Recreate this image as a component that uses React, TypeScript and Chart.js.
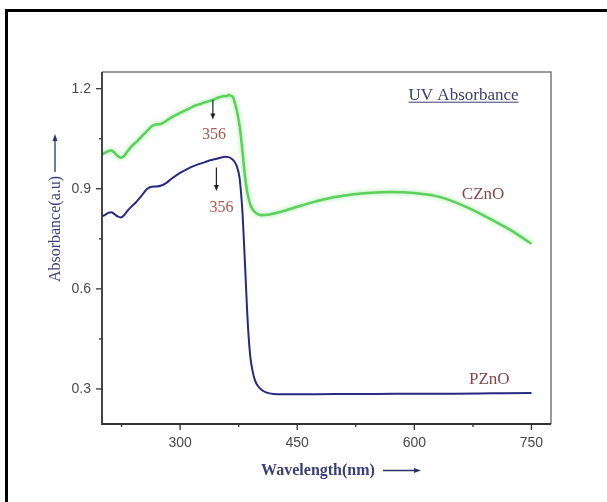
import React, { useEffect, useRef } from "react";
import { Chart, registerables } from "chart.js";

Chart.register(...registerables);

// ---- data ----
const czWavelength = [200, 204, 208, 212, 216, 220, 224, 228, 232, 236, 240, 246, 252, 258, 264, 270, 276, 282, 289, 297, 306, 312, 319, 327, 336, 343, 349, 353, 356, 359, 362, 365, 368, 371, 374, 377, 380, 383, 386, 390, 394, 398, 404, 412, 420, 435, 450, 470, 495, 520, 545, 570, 600, 633, 667, 700, 727, 750];
const czAbsorbance = [1.003, 1.008, 1.013, 1.015, 1.008, 0.998, 0.993, 0.998, 1.010, 1.022, 1.032, 1.045, 1.060, 1.074, 1.088, 1.093, 1.095, 1.103, 1.114, 1.124, 1.134, 1.141, 1.149, 1.155, 1.162, 1.167, 1.174, 1.176, 1.178, 1.177, 1.181, 1.179, 1.174, 1.150, 1.120, 1.075, 1.010, 0.940, 0.890, 0.852, 0.835, 0.826, 0.821, 0.822, 0.826, 0.835, 0.846, 0.860, 0.874, 0.883, 0.888, 0.890, 0.887, 0.875, 0.845, 0.806, 0.771, 0.735];

const pzWavelength = [200, 204, 208, 212, 216, 220, 224, 228, 232, 237, 243, 250, 258, 264, 270, 276, 282, 289, 297, 306, 314, 323, 332, 340, 347, 353, 358, 362, 366, 370, 373, 376, 378, 380, 382, 384, 386, 388, 390, 393, 396, 400, 405, 411, 420, 430, 450, 500, 550, 600, 650, 700, 750];
const pzAbsorbance = [0.818, 0.822, 0.828, 0.830, 0.824, 0.817, 0.814, 0.820, 0.832, 0.845, 0.858, 0.877, 0.900, 0.906, 0.907, 0.910, 0.917, 0.930, 0.943, 0.955, 0.965, 0.973, 0.980, 0.986, 0.990, 0.994, 0.996, 0.995, 0.990, 0.980, 0.965, 0.935, 0.890, 0.826, 0.730, 0.630, 0.527, 0.450, 0.395, 0.352, 0.325, 0.308, 0.296, 0.289, 0.285, 0.284, 0.284, 0.285, 0.285, 0.286, 0.286, 0.287, 0.288];

const seriesNames = ["CZnO", "PZnO"];
const peakLabel = "356";
const chartLabel = "UV Absorbance";
const xTitle = "Wavelength(nm)";
const yTitle = "Absorbance(a.u)";

const xMajorTicks = [300, 450, 600, 750];
const xMinorTicks = [225, 375, 525, 675];
const yMajorTicks = [0.3, 0.6, 0.9, 1.2];
const yMinorTicks = [0.45, 0.75, 1.05];

const SERIF = '"Liberation Serif", "Times New Roman", serif';
const SANS = '"Liberation Sans", Arial, sans-serif';

function drawArrow(ctx: CanvasRenderingContext2D, x1: number, y1: number, x2: number, y2: number, color: string, width: number, headLen: number, headW: number) {
  const ang = Math.atan2(y2 - y1, x2 - x1);
  ctx.save();
  ctx.strokeStyle = color;
  ctx.fillStyle = color;
  ctx.lineWidth = width;
  ctx.beginPath();
  ctx.moveTo(x1, y1);
  ctx.lineTo(x2 - Math.cos(ang) * headLen * 0.6, y2 - Math.sin(ang) * headLen * 0.6);
  ctx.stroke();
  ctx.beginPath();
  ctx.moveTo(x2, y2);
  ctx.lineTo(x2 - Math.cos(ang) * headLen + Math.sin(ang) * headW, y2 - Math.sin(ang) * headLen - Math.cos(ang) * headW);
  ctx.lineTo(x2 - Math.cos(ang) * headLen - Math.sin(ang) * headW, y2 - Math.sin(ang) * headLen + Math.cos(ang) * headW);
  ctx.closePath();
  ctx.fill();
  ctx.restore();
}

const decorPlugin = {
  id: "decor",
  beforeDatasetDraw(chart: any, args: any) {
    if (args.index === 0) {
      const c = chart.ctx;
      c.save();
      c.shadowColor = "rgba(120,225,120,0.8)";
      c.shadowBlur = 4;
    }
  },
  afterDatasetDraw(chart: any, args: any) {
    if (args.index === 0) chart.ctx.restore();
  },
  afterDraw(chart: any) {
    const ctx: CanvasRenderingContext2D = chart.ctx;
    const a = chart.chartArea;
    const xs = chart.scales.x;
    const ys = chart.scales.y;
    ctx.save();
    // plot frame
    ctx.lineWidth = 1.5;
    ctx.strokeStyle = "#7a7a7a";
    ctx.beginPath();
    ctx.moveTo(a.left, a.top);
    ctx.lineTo(a.right, a.top);
    ctx.lineTo(a.right, a.bottom);
    ctx.stroke();
    ctx.strokeStyle = "#333";
    ctx.lineWidth = 1.8;
    ctx.beginPath();
    ctx.moveTo(a.left, a.top);
    ctx.lineTo(a.left, a.bottom);
    ctx.lineTo(a.right, a.bottom);
    ctx.stroke();

    // tick marks
    ctx.lineWidth = 1.3;
    ctx.strokeStyle = "#333";
    const tick = (x1: number, y1: number, x2: number, y2: number) => {
      ctx.beginPath();
      ctx.moveTo(x1, y1);
      ctx.lineTo(x2, y2);
      ctx.stroke();
    };
    xMajorTicks.forEach((v) => { const px = xs.getPixelForValue(v); tick(px, a.bottom, px, a.bottom + 6); });
    xMinorTicks.forEach((v) => { const px = xs.getPixelForValue(v); tick(px, a.bottom, px, a.bottom + 3); });
    yMajorTicks.forEach((v) => { const py = ys.getPixelForValue(v); tick(a.left, py, a.left - 6, py); });
    yMinorTicks.forEach((v) => { const py = ys.getPixelForValue(v); tick(a.left, py, a.left - 3, py); });

    // annotations
    ctx.textAlign = "center";
    ctx.textBaseline = "middle";
    ctx.font = `16px ${SERIF}`;
    ctx.fillStyle = "#a8584e";
    ctx.fillText(peakLabel, xs.getPixelForValue(343.5), ys.getPixelForValue(1.062));
    ctx.fillText(peakLabel, xs.getPixelForValue(353), ys.getPixelForValue(0.843));
    drawArrow(ctx, xs.getPixelForValue(342), ys.getPixelForValue(1.167), xs.getPixelForValue(342), ys.getPixelForValue(1.108), "#222", 1.2, 6, 2.5);
    drawArrow(ctx, xs.getPixelForValue(346.5), ys.getPixelForValue(0.964), xs.getPixelForValue(346.5), ys.getPixelForValue(0.893), "#222", 1.2, 6, 2.5);

    ctx.font = `17px ${SERIF}`;
    ctx.fillStyle = "#864548";
    ctx.fillText(seriesNames[0], xs.getPixelForValue(688), ys.getPixelForValue(0.882));
    ctx.fillText(seriesNames[1], xs.getPixelForValue(696), ys.getPixelForValue(0.328));

    // UV Absorbance label with underline
    ctx.font = `17px ${SERIF}`;
    ctx.fillStyle = "#3a3d70";
    const ux = xs.getPixelForValue(663);
    const uy = ys.getPixelForValue(1.179);
    ctx.fillText(chartLabel, ux, uy);
    const w = ctx.measureText(chartLabel).width;
    ctx.strokeStyle = "#3a3d70";
    ctx.lineWidth = 1;
    ctx.beginPath();
    ctx.moveTo(ux - w / 2, uy + 6.5);
    ctx.lineTo(ux + w / 2, uy + 6.5);
    ctx.stroke();

    // axis titles
    ctx.fillStyle = "#3b3f78";
    ctx.font = `bold 16px ${SERIF}`;
    ctx.fillText(xTitle, 318, 471);
    drawArrow(ctx, 383, 470.5, 421, 470.5, "#2f335f", 1.3, 7, 2.5);

    ctx.save();
    ctx.translate(56, 229);
    ctx.rotate(-Math.PI / 2);
    ctx.font = `16px ${SERIF}`;
    ctx.fillText(yTitle, 0, 0);
    ctx.restore();
    drawArrow(ctx, 55, 172, 55, 134, "#2f335f", 1.3, 7, 2.5);

    ctx.restore();
  },
};

export default function App() {
  const ref = useRef<HTMLCanvasElement>(null);
  useEffect(() => {
    if (!ref.current) return;
    const chart = new Chart(ref.current, {
      type: "line",
      data: {
        datasets: [
          {
            label: seriesNames[0],
            data: czWavelength.map((x, i) => ({ x, y: czAbsorbance[i] })),
            borderColor: "#5cd05c",
            borderWidth: 2.5,
            pointRadius: 0,
            cubicInterpolationMode: "monotone",
            fill: false,
          },
          {
            label: seriesNames[1],
            data: pzWavelength.map((x, i) => ({ x, y: pzAbsorbance[i] })),
            borderColor: "#272a80",
            borderWidth: 2,
            pointRadius: 0,
            cubicInterpolationMode: "monotone",
            fill: false,
          },
        ],
      },
      options: {
        responsive: false,
        animation: false,
        layout: { padding: { left: 0, top: 72, right: 56, bottom: 0 } },
        plugins: { legend: { display: false }, tooltip: { enabled: false } },
        scales: {
          x: {
            type: "linear",
            min: 200,
            max: 775,
            grid: { display: false, drawTicks: false },
            border: { display: false },
            afterBuildTicks: (s: any) => { s.ticks = xMajorTicks.map((v) => ({ value: v })); },
            afterFit: (s: any) => { s.height = 78; },
            ticks: {
              font: { family: SANS, size: 14 },
              color: "#4a4a4a",
              padding: 11,
              maxRotation: 0,
              autoSkip: false,
              callback: (v: any) => String(v),
            },
          },
          y: {
            type: "linear",
            min: 0.195,
            max: 1.25,
            grid: { display: false, drawTicks: false },
            border: { display: false },
            afterBuildTicks: (s: any) => { s.ticks = yMajorTicks.map((v) => ({ value: v })); },
            afterFit: (s: any) => { s.width = 102; },
            ticks: {
              font: { family: SANS, size: 14 },
              color: "#4a4a4a",
              padding: 11,
              autoSkip: false,
              callback: (v: any) => Number(v).toFixed(1),
            },
          },
        },
      },
      plugins: [decorPlugin],
    } as any);
    return () => chart.destroy();
  }, []);

  return (
    <div style={{ position: "fixed", left: 0, top: 0, width: 607, height: 502, background: "#fff", overflow: "hidden" }}>
      <canvas ref={ref} width={607} height={502} style={{ position: "absolute", left: 0, top: 0, width: 607, height: 502 }} />
      <div style={{ position: "absolute", left: 5, top: 9, width: 800, height: 800, borderLeft: "3px solid #000", borderTop: "3px solid #000", pointerEvents: "none" }} />
    </div>
  );
}
